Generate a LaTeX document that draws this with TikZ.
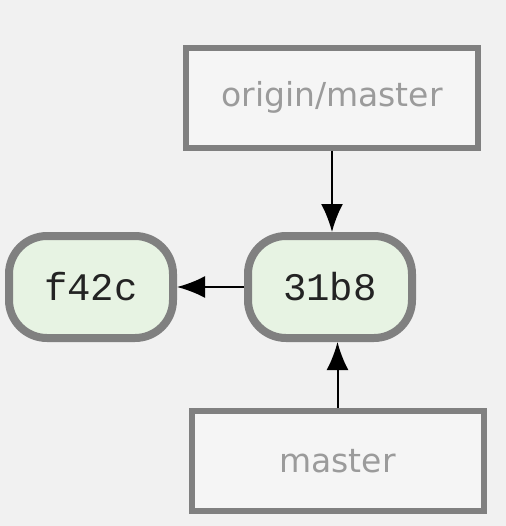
\documentclass[tikz,border=0pt]{standalone}
\usepackage{fontspec}
\newfontfamily\reffont{DejaVu Sans}
\newfontfamily\hashfont{Liberation Mono}
\usepackage{xcolor}
\definecolor{bggray}{RGB}{241,241,241}
\definecolor{boxfill}{RGB}{245,245,245}
\definecolor{edgegray}{RGB}{128,128,128}
\definecolor{reftext}{RGB}{155,155,155}
\definecolor{commitfill}{RGB}{231,243,227}
\definecolor{hashtext}{RGB}{35,35,35}
\usetikzlibrary{arrows.meta, positioning}

\begin{document}
\begin{tikzpicture}[
  x=0.5pt, y=-0.5pt,
  >={Latex[length=14pt, width=11pt]},
  branchref/.style={
    rectangle, minimum width=146pt, minimum height=50pt,
    line width=3pt, draw=edgegray, fill=boxfill, inner sep=0pt,
    font=\reffont\fontsize{16.5}{19}\selectfont\color{reftext}
  },
  commit/.style={
    rectangle, rounded corners=19pt, minimum width=82pt, minimum height=51pt,
    line width=4pt, draw=edgegray, fill=commitfill, inner sep=0pt,
    font=\hashfont\fontsize{19.5}{22}\selectfont\color{hashtext}
  },
  pointer/.style={->, line width=1pt, color=black}
]
\fill[bggray] (0,0) rectangle (506,526);
\useasboundingbox (0,0) rectangle (506,526);

\node[commit] (c31b8) at (330,287) {31b8};
\node[commit, left=33.5pt of c31b8] (f42c) {f42c};
\node[branchref] (origin) at (332,97.5) {origin/master};
\node[branchref] (master) at (337.5,461) {master};

\draw[pointer] (c31b8) -- (f42c);
\draw[pointer] (origin.south) -- (origin.south |- c31b8.north);
\draw[pointer] (master.north) -- (master.north |- c31b8.south);
\end{tikzpicture}
\end{document}
